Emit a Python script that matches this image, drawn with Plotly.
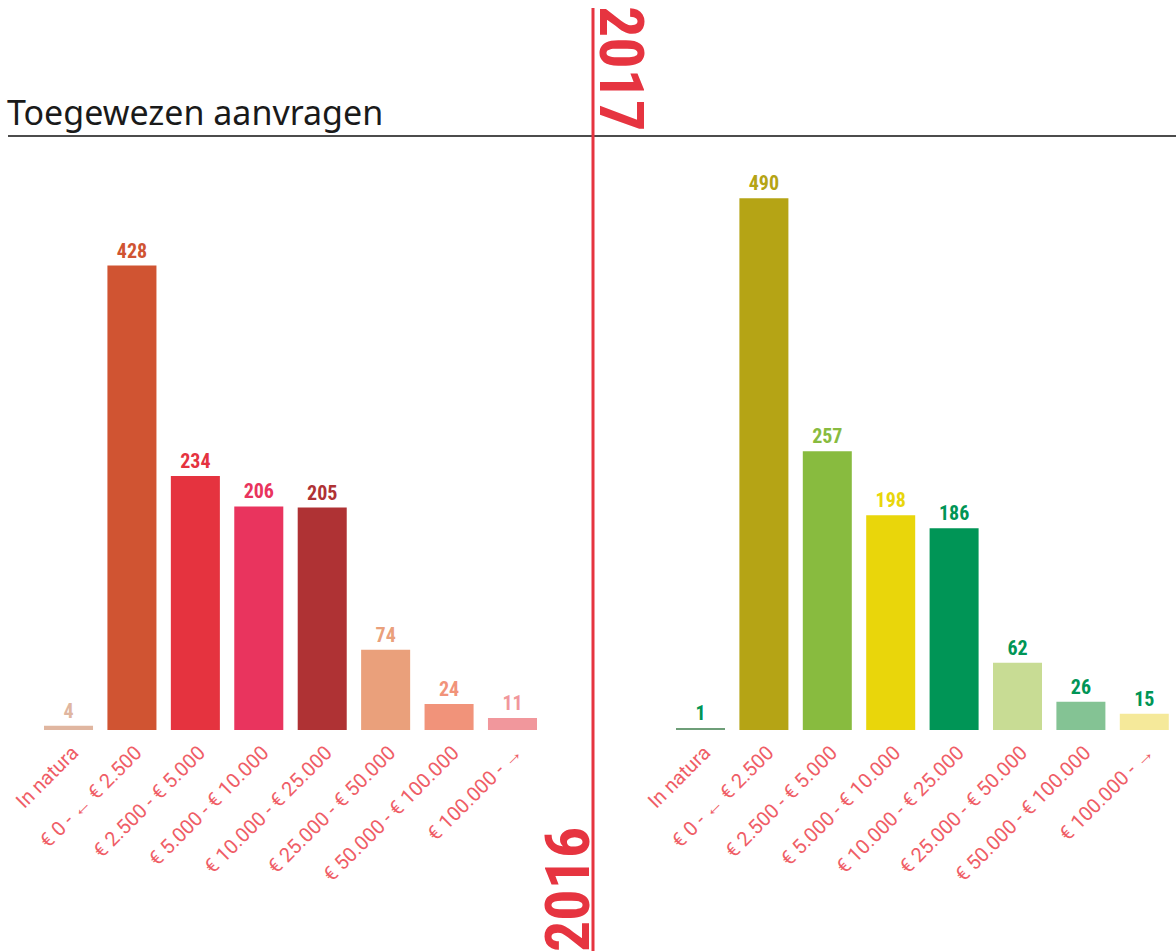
import plotly.graph_objects as go

categories = ["In natura", "€ 0 - ← € 2.500", "€ 2.500 - € 5.000", "€ 5.000 - € 10.000",
              "€ 10.000 - € 25.000", "€ 25.000 - € 50.000", "€ 50.000 - € 100.000", "€ 100.000 - →"]
values_2016 = [4, 428, 234, 206, 205, 74, 24, 11]
values_2017 = [1, 490, 257, 198, 186, 62, 26, 15]

colors_2016 = ["#E0B6A0", "#D05432", "#E5333F", "#E9345E", "#AF3234", "#EAA07B", "#F1937A", "#F1979C"]
label_colors_2016 = colors_2016
colors_2017 = ["#6E9E78", "#B5A415", "#88BB3F", "#E9D60B", "#009556", "#C8DC94", "#84C394", "#F5E99A"]
label_colors_2017 = ["#009556", "#B5A415", "#88BB3F", "#E9D60B", "#009556", "#009556", "#009556", "#009556"]

title_text = "Toegewezen aanvragen"
year_left = "2016"
year_right = "2017"

W, H = 1176, 951
NUM_FONT = "Liberation Sans Narrow, Roboto Condensed, DejaVu Sans Condensed, Arial Narrow, sans-serif"
TICK_FONT = "Roboto, Noto Sans, sans-serif"
TICK_COLOR = "#EF5D66"

fig = go.Figure()
fig.add_trace(go.Bar(
    x=categories, y=values_2016, text=[str(v) for v in values_2016],
    textposition="outside", cliponaxis=False,
    marker=dict(color=colors_2016, line=dict(width=0)),
    textfont=dict(family=NUM_FONT, size=20, color=label_colors_2016, weight="bold"),
    xaxis="x", yaxis="y", showlegend=False, hoverinfo="skip"))
fig.add_trace(go.Bar(
    x=categories, y=values_2017, text=[str(v) for v in values_2017],
    textposition="outside", cliponaxis=False,
    marker=dict(color=colors_2017, line=dict(width=0)),
    textfont=dict(family=NUM_FONT, size=20, color=label_colors_2017, weight="bold"),
    xaxis="x2", yaxis="y2", showlegend=False, hoverinfo="skip"))

ydom = [(H - 730) / H, (H - 730 + 540 * 1.085) / H]
axis_common = dict(showgrid=False, zeroline=False, showline=False, ticks="", automargin=False,
                   tickangle=-45, ticklabelshift=4, ticklabelstandoff=6,
                   tickfont=dict(family=TICK_FONT, size=20, color=TICK_COLOR))
fig.update_layout(
    width=W, height=H, margin=dict(l=0, r=0, t=0, b=0, autoexpand=False),
    paper_bgcolor="white", plot_bgcolor="white",
    bargap=0.227,
    xaxis=dict(domain=[36.8 / W, 544.2 / W], anchor="y", **axis_common),
    yaxis=dict(domain=ydom, range=[0, 540], visible=False, automargin=False),
    xaxis2=dict(domain=[668.8 / W, 1.0], anchor="y2", **axis_common),
    yaxis2=dict(domain=ydom, range=[0, 540], visible=False, automargin=False),
)

# divider lines
fig.add_shape(type="line", xref="paper", yref="paper", x0=8 / W, x1=1.0,
              y0=(H - 136) / H, y1=(H - 136) / H, line=dict(color="#111111", width=1.5))
fig.add_shape(type="line", xref="paper", yref="paper", x0=593 / W, x1=593 / W,
              y0=0, y1=(H - 8) / H, line=dict(color="#E63440", width=3))

fig.add_annotation(text=title_text, xref="paper", yref="paper", x=5 / W, y=(H - 137) / H,
                   xanchor="left", yanchor="bottom", showarrow=False,
                   font=dict(family="Noto Sans, sans-serif", size=34, color="#1a1a1a"))
fig.add_annotation(text=year_right, xref="paper", yref="paper", x=622 / W, y=(H - 68) / H,
                   xanchor="center", yanchor="middle", textangle=90, showarrow=False,
                   font=dict(family=NUM_FONT, size=62, color="#E63440", weight="bold"))
fig.add_annotation(text=year_left, xref="paper", yref="paper", x=567 / W, y=(H - 890) / H,
                   xanchor="center", yanchor="middle", textangle=-90, showarrow=False,
                   font=dict(family=NUM_FONT, size=62, color="#E63440", weight="bold"))

fig.write_html("out.html", config={"displayModeBar": False},
               post_script="document.body.style.margin='0';")
